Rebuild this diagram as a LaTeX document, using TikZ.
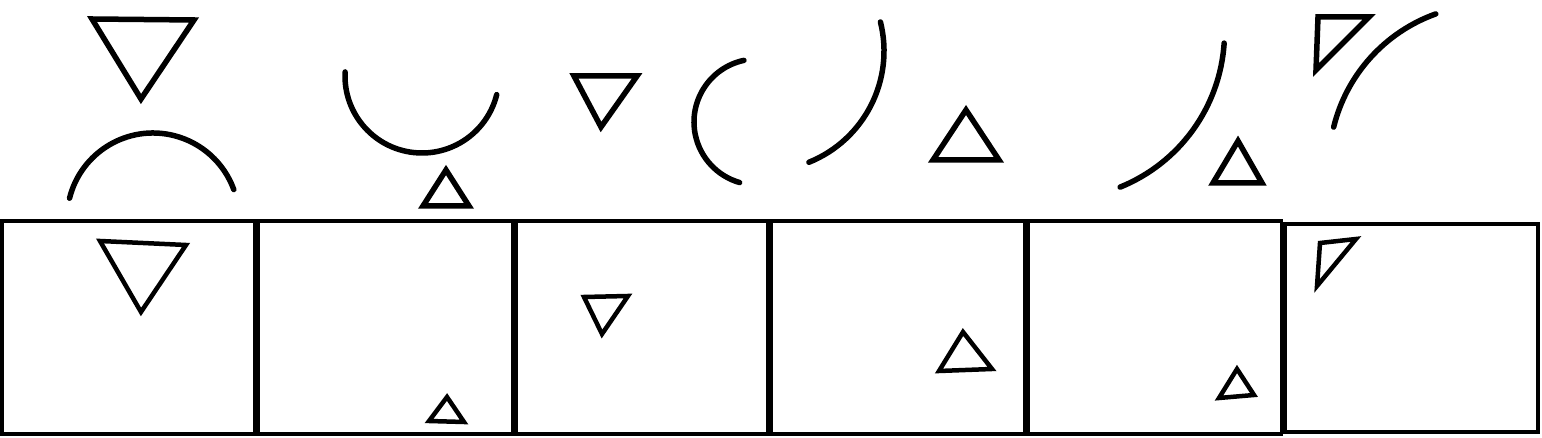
\documentclass[tikz,border=0pt]{standalone}
\begin{document}
\begin{tikzpicture}[x=1pt,y=1pt,
  tri/.style={draw=black,line width=5.5pt,line join=miter},
  smalltri/.style={draw=black,line width=4.5pt,line join=miter},
  curve/.style={draw=black,line width=5.5pt,line cap=round},
  cellbox/.style={draw=black,line width=3.5pt}]
\useasboundingbox[fill=white] (0,0) rectangle (1542,438);
% top row
\draw[tri] (92,419) -- (194,418) -- (141,339) -- cycle;
\draw[curve] ([shift={(166:86)}]153,219) arc (166:20:86);
\draw[curve] ([shift={(177:77)}]422,362) arc (177:346:77);
\draw[tri] (446,268) -- (423,232) -- (469,232) -- cycle;
\draw[tri] (574,362) -- (637,362) -- (601,311) -- cycle;
\draw[curve] ([shift={(102:63)}]757,316) arc (102:254:63);
\draw[curve] ([shift={(-68:120)}]764,387) arc (-68:14:120);
\draw[tri] (966,328) -- (933,278) -- (999,278) -- cycle;
\draw[curve] ([shift={(-68:167)}]1057.5,405.7) arc (-68:-3.7:167);
\draw[tri] (1238,297) -- (1213,255) -- (1262,255) -- cycle;
\draw[tri] (1318,421) -- (1369,421) -- (1316,368) -- cycle;
\draw[curve] ([shift={(109.7:161)}]1490,272.5) arc (109.7:166.2:161);
% cells
\draw[cellbox] (2,4) rectangle (254.5,217);
\draw[cellbox] (258,4) rectangle (512.5,217);
\draw[cellbox] (516,4) rectangle (767.5,217);
\draw[cellbox] (771,4) rectangle (1024.5,217);
\draw[cellbox] (1028,4) rectangle (1281.5,217);
\draw[cellbox] (1285,6) rectangle (1538,214);
% triangles in cells
\draw[smalltri] (100,197) -- (186,193) -- (141,126) -- cycle;
\draw[smalltri] (447,41) -- (429,17) -- (464,16) -- cycle;
\draw[smalltri] (584,141) -- (628,142) -- (602,104) -- cycle;
\draw[smalltri] (963,106) -- (939,67) -- (992,69) -- cycle;
\draw[smalltri] (1237,69) -- (1219,40) -- (1254,43) -- cycle;
\draw[smalltri] (1320,195) -- (1356,199) -- (1317,152) -- cycle;
\end{tikzpicture}
\end{document}
